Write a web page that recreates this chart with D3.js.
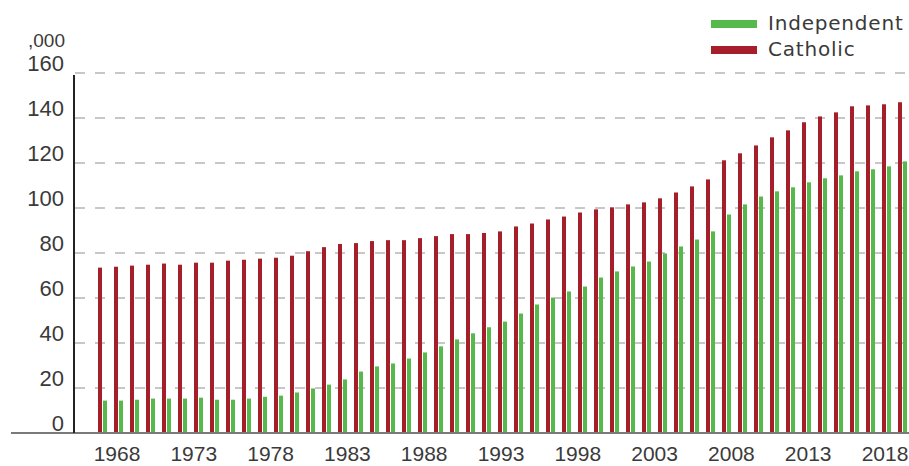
<!DOCTYPE html>
<html>
<head>
<meta charset="utf-8">
<script src="https://cdn.jsdelivr.net/npm/d3@7"></script>
<style>
	body { margin: 0; background: #fff; }
	svg { display: block; }
</style>
</head>
<body>
<svg id="chart"></svg>
<script>
const years = d3.range(1968, 2019)

const catholic = [
	73.5, 73.9, 74.4, 74.8, 75.3, 74.8, 75.7, 75.7, 76.6, 77.0, 77.5, 77.9, 78.8,
	80.8, 82.6, 84.0, 84.4, 85.3, 85.7, 85.7, 86.6, 87.5, 88.4, 88.4, 88.9,
	89.6, 91.8, 93.1, 94.9, 96.2, 98.0, 99.4, 100.3, 101.6, 102.5, 104.3, 106.9, 109.6,
	112.7, 121.2, 124.3, 127.8, 131.4, 134.5, 138.1, 140.7, 142.5, 145.2, 145.6, 146.1, 147.0
]

const independent = [
	14.4, 14.4, 14.8, 15.3, 15.3, 15.3, 15.7, 14.8, 14.8, 15.3, 16.1, 16.6,
	18.0, 19.8, 21.5, 23.8, 27.3, 29.6, 30.9, 33.1, 35.8, 38.5, 41.6, 44.3, 47.0,
	49.5, 53.1, 57.1, 60.2, 62.9, 65.1, 69.1, 71.8, 74.0, 76.2, 79.8, 82.9,
	86.0, 89.6, 97.1, 101.6, 105.1, 107.4, 109.2, 111.4, 113.2, 114.5, 116.3, 117.2, 118.5, 120.7
]

const seriesNames = ["Catholic", "Independent"]
const legendOrder = ["Independent", "Catholic"]
const yTicks = [0, 20, 40, 60, 80, 100, 120, 140, 160]
const yearTicks = [1968, 1973, 1978, 1983, 1988, 1993, 1998, 2003, 2008, 2013, 2018]
const unitLabel = ",000"

function renderChart() {
	const dims = {
		width: 909,
		height: 466,
		margin: ({top: 73, left: 74, right: 0, bottom: 33}),
		barsLeft: 96
	}

	const colors = {
		Catholic: "#a51e29",
		Independent: "#55b94b"
	}

	const numFont = "'Liberation Sans Narrow', 'Liberation Sans', sans-serif"
	const textFont = "'DejaVu Sans', sans-serif"
	const textColor = "#3a3a3a"

	const svg = d3.select("#chart")
		.attr("width", dims.width)
		.attr("height", dims.height)

	const baseY = dims.height - dims.margin.bottom

	const y = d3.scaleLinear()
		.domain([0, 160])
		.range([baseY, dims.margin.top])

	const x = d3.scaleBand()
		.domain(years)
		.range([dims.barsLeft, dims.barsLeft + 16 * years.length])

	const xSub = d3.scaleBand()
		.domain(seriesNames)
		.range([2, 11])
		.paddingInner(0.2)

	// year labels run on their own even spacing, a little tighter than the bars
	const xLabel = d3.scaleLinear()
		.domain([1968, 2018])
		.range([117, 885])

	// dashed grid
	svg.append("g")
		.selectAll("line")
		.data(yTicks.filter(d => d > 0))
		.join("line")
			.attr("x1", dims.margin.left + 1)
			.attr("x2", dims.width)
			.attr("y1", d => y(d))
			.attr("y2", d => y(d))
			.attr("stroke", "#b5b5b5")
			.attr("stroke-width", 1.7)
			.attr("stroke-dasharray", "10,10")

	const rows = years.map((yr, i) => ({
		year: yr,
		Catholic: catholic[i],
		Independent: independent[i]
	}))

	svg.append("g")
		.selectAll("g")
		.data(rows)
		.join("g")
			.attr("transform", d => `translate(${x(d.year)},0)`)
		.selectAll("rect")
		.data(d => seriesNames.map(k => ({key: k, value: d[k]})))
		.join("rect")
			.attr("x", d => xSub(d.key))
			.attr("width", xSub.bandwidth())
			.attr("y", d => y(d.value))
			.attr("height", d => y(0) - y(d.value))
			.attr("fill", d => colors[d.key])

	// baseline + left axis
	svg.append("line")
		.attr("x1", 11).attr("x2", dims.width)
		.attr("y1", baseY).attr("y2", baseY)
		.attr("stroke", "#7a7a7a")
		.attr("stroke-width", 2)

	svg.append("line")
		.attr("x1", dims.margin.left).attr("x2", dims.margin.left)
		.attr("y1", y(160) + 2).attr("y2", baseY)
		.attr("stroke", "#222")
		.attr("stroke-width", 2)

	svg.append("g")
		.selectAll("text")
		.data(yTicks)
		.join("text")
			.attr("x", 64)
			.attr("y", d => y(d) - 2)
			.attr("text-anchor", "end")
			.attr("font-family", numFont)
			.attr("font-size", 22)
			.attr("fill", textColor)
			.text(d => d)

	svg.append("text")
		.attr("x", 65)
		.attr("y", 47)
		.attr("text-anchor", "end")
		.attr("font-family", numFont)
		.attr("font-size", 19)
		.attr("fill", textColor)
		.text(unitLabel)

	svg.append("g")
		.selectAll("text")
		.data(yearTicks)
		.join("text")
			.attr("x", d => xLabel(d))
			.attr("y", 461)
			.attr("text-anchor", "middle")
			.attr("font-family", numFont)
			.attr("font-size", 21)
			.attr("fill", textColor)
			.text(d => d)

	// legend
	const legend = svg.append("g")
		.selectAll("g")
		.data(legendOrder)
		.join("g")
			.attr("transform", (d, i) => `translate(711,${20 + i * 26})`)

	legend.append("rect")
		.attr("width", 46)
		.attr("height", 8)
		.attr("fill", d => colors[d])

	legend.append("text")
		.attr("x", 57)
		.attr("y", 10)
		.attr("font-family", textFont)
		.attr("font-size", 20)
		.attr("letter-spacing", 0.8)
		.attr("fill", textColor)
		.text(d => d)
}

renderChart()
</script>
</body>
</html>
